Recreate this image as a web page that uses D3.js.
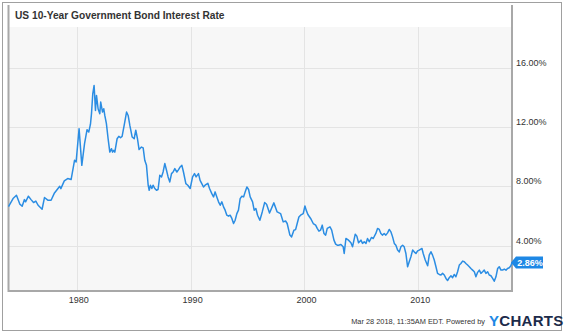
<!DOCTYPE html>
<html><head><meta charset="utf-8">
<script src="https://cdn.jsdelivr.net/npm/d3@7"></script>
<style>
html,body{margin:0;padding:0;background:#fff;}
text{font-family:"Liberation Sans",Arial,sans-serif;}
</style></head>
<body><svg id="c" width="564" height="333"></svg>
<script>
const title = "US 10-Year Government Bond Interest Rate";
const footerText = "Mar 28 2018, 11:35AM EDT.  Powered by";
const yTicks = [4, 8, 12, 16];
const xTicks = [1980, 1990, 2000, 2010];
const lastLabel = "2.86%";
const years = [1974.0,1974.4,1974.7,1975.0,1975.2,1975.4,1975.5,1975.75,1975.98,1976.2,1976.4,1976.6,1976.95,1977.16,1977.45,1977.74,1978.04,1978.5,1978.6,1978.9,1979.2,1979.5,1979.8,1979.94,1980.2,1980.44,1980.68,1980.9,1981.05,1981.2,1981.29,1981.4,1981.52,1981.64,1981.73,1981.87,1982.02,1982.1,1982.26,1982.37,1982.46,1982.6,1982.75,1982.9,1983.05,1983.14,1983.25,1983.34,1983.54,1983.69,1983.84,1983.98,1984.16,1984.37,1984.51,1984.66,1984.86,1985.04,1985.18,1985.33,1985.47,1985.68,1985.83,1985.97,1986.12,1986.27,1986.36,1986.47,1986.59,1986.7,1986.85,1987.0,1987.14,1987.29,1987.44,1987.58,1987.73,1987.88,1988.02,1988.17,1988.32,1988.46,1988.61,1988.79,1988.94,1989.08,1989.23,1989.37,1989.58,1989.75,1989.96,1990.17,1990.34,1990.48,1990.69,1990.83,1990.98,1991.13,1991.27,1991.51,1991.66,1991.86,1992.01,1992.15,1992.3,1992.45,1992.6,1992.74,1992.89,1993.03,1993.18,1993.33,1993.47,1993.62,1993.77,1993.91,1994.06,1994.2,1994.35,1994.5,1994.65,1994.79,1994.94,1995.09,1995.23,1995.44,1995.58,1995.73,1995.88,1996.08,1996.29,1996.5,1996.67,1996.93,1997.31,1997.6,1997.9,1998.13,1998.34,1998.48,1998.72,1998.87,1999.07,1999.22,1999.36,1999.51,1999.66,1999.89,2000.04,2000.15,2000.3,2000.54,2000.77,2000.98,2001.12,2001.27,2001.41,2001.56,2001.71,2001.86,2002.0,2002.24,2002.39,2002.59,2002.74,2002.88,2002.99,2003.2,2003.4,2003.49,2003.64,2003.87,2004.08,2004.22,2004.46,2004.6,2004.75,2004.96,2005.1,2005.25,2005.4,2005.54,2005.69,2005.89,2006.04,2006.27,2006.42,2006.57,2006.71,2006.86,2007.0,2007.15,2007.3,2007.45,2007.59,2007.74,2007.89,2008.03,2008.18,2008.33,2008.47,2008.62,2008.76,2008.91,2009.06,2009.2,2009.35,2009.5,2009.64,2009.79,2009.94,2010.08,2010.32,2010.43,2010.61,2010.82,2010.96,2011.11,2011.25,2011.4,2011.55,2011.69,2011.84,2011.99,2012.13,2012.28,2012.43,2012.57,2012.72,2012.87,2013.01,2013.16,2013.3,2013.45,2013.6,2013.74,2013.89,2014.04,2014.18,2014.33,2014.48,2014.62,2014.77,2014.92,2015.06,2015.21,2015.36,2015.5,2015.65,2015.79,2015.94,2016.09,2016.23,2016.38,2016.53,2016.67,2016.82,2016.97,2017.11,2017.26,2017.4,2017.55,2017.7,2017.84,2017.99,2018.13,2018.23];
const rates = [6.62,7.17,7.39,6.79,6.66,7.10,6.95,7.33,7.10,6.90,7.00,6.72,6.45,7.24,7.06,7.06,7.55,8.00,7.84,8.36,8.52,8.45,9.75,9.63,11.88,9.41,10.87,11.81,11.65,12.18,12.89,14.2,14.79,13.10,14.12,13.22,12.89,13.67,13.00,13.22,12.77,12.22,11.20,10.30,10.53,10.30,10.42,10.30,11.20,11.36,11.27,11.36,12.10,13.00,12.77,12.10,11.32,11.20,11.78,11.20,10.47,10.64,10.58,9.75,9.41,8.07,7.73,8.07,7.85,8.07,7.85,7.73,7.78,8.74,8.63,8.96,9.53,9.08,8.63,8.29,8.85,8.96,9.19,8.96,9.12,9.30,9.41,8.96,8.18,8.07,7.85,8.63,8.85,8.63,8.85,8.40,8.18,7.95,8.07,8.20,7.85,7.50,7.28,7.62,7.28,6.95,6.72,6.95,6.61,6.39,6.05,5.98,6.05,5.83,5.49,5.71,6.16,6.39,7.17,7.33,7.28,7.62,7.95,7.78,7.28,6.95,6.39,6.50,6.05,5.71,6.27,6.90,6.79,6.20,6.88,6.27,6.16,5.60,5.66,5.49,4.71,4.59,5.04,5.08,5.49,5.93,6.05,6.16,6.67,6.39,6.10,5.83,5.49,5.38,5.16,4.97,5.04,5.38,4.82,4.71,5.16,5.27,5.04,4.37,4.10,4.03,4.03,4.08,3.92,3.47,4.48,4.37,4.19,3.92,4.77,4.64,4.19,4.37,4.15,4.26,4.15,4.48,4.26,4.55,4.48,4.82,5.16,5.09,4.82,4.71,4.82,4.71,4.86,5.09,4.93,4.59,4.15,4.03,3.70,3.58,3.92,4.03,3.92,3.47,2.57,2.91,3.25,3.70,3.58,3.47,3.65,3.70,3.81,3.47,3.03,2.64,3.36,3.59,3.36,3.03,2.58,2.13,2.06,2.02,2.13,2.02,1.79,1.65,1.84,1.97,1.84,2.06,1.90,2.24,2.69,2.80,2.96,2.91,2.80,2.69,2.58,2.46,2.35,2.24,1.90,2.20,2.35,2.13,2.24,2.35,2.13,2.24,2.02,1.97,1.79,1.60,1.90,2.46,2.58,2.35,2.35,2.42,2.35,2.46,2.51,2.64,2.86];

const svg = d3.select("#c");
const L = 8.5, R = 512, T = 27, B = 291;
const x = d3.scaleLinear().domain([1974.0, 2018.23]).range([L, R]);
const y = d3.scaleLinear().domain([0, 16]).range([305, 67.5]);

// background & frame
svg.append("rect").attr("x",2.5).attr("y",2.5).attr("width",559).attr("height",328)
  .attr("fill","#fff").attr("stroke","#a0a0a0").attr("stroke-width",1);
svg.append("rect").attr("x",L).attr("y",T).attr("width",R-L).attr("height",B-T).attr("fill","#f7f7f7");

// title
svg.append("text").attr("x",15).attr("y",19).attr("font-size",10.2).attr("font-weight","bold")
  .attr("fill","#333").text(title);

// grid
const g = svg.append("g");
g.selectAll(".hg").data(yTicks).enter().append("line")
  .attr("x1",L).attr("x2",R).attr("y1",d=>Math.round(y(d))+0.5).attr("y2",d=>Math.round(y(d))+0.5)
  .attr("stroke","#e4e4e4").attr("stroke-width",1);
g.selectAll(".vg").data(xTicks).enter().append("line")
  .attr("y1",T).attr("y2",B).attr("x1",d=>Math.round(x(d))+0.5).attr("x2",d=>Math.round(x(d))+0.5)
  .attr("stroke","#e4e4e4").attr("stroke-width",1);

// axes lines
svg.append("line").attr("x1",L).attr("x2",L).attr("y1",T-22).attr("y2",B+1).attr("stroke","#a8a8a8").attr("stroke-width",2);
svg.append("line").attr("x1",R).attr("x2",R).attr("y1",T-22).attr("y2",B+1).attr("stroke","#a8a8a8").attr("stroke-width",2);
svg.append("line").attr("x1",L).attr("x2",R).attr("y1",B).attr("y2",B).attr("stroke","#a8a8a8").attr("stroke-width",2);

// y labels
svg.selectAll(".yl").data(yTicks).enter().append("text")
  .attr("x",516).attr("y",d=>y(d)-2).attr("font-size",9).attr("fill","#333")
  .text(d=>d3.format(".2f")(d)+"%");
// x labels
svg.selectAll(".xl").data(xTicks).enter().append("text")
  .attr("x",d=>x(d)+2).attr("y",303).attr("font-size",9).attr("fill","#333").attr("text-anchor","middle")
  .text(d=>d);

// line
const data = years.map((t,i)=>({t, v:rates[i]}));
svg.append("path").datum(data)
  .attr("d", d3.line().x(d=>x(d.t)).y(d=>y(d.v)))
  .attr("fill","none").attr("stroke","#2b8de3").attr("stroke-width",1.5).attr("stroke-linejoin","round");

// last value label
const lv = rates[rates.length-1];
const ly = y(lv);
svg.append("path")
  .attr("d", `M${R-1},${ly} L${R+4},${ly-6} L${R+31},${ly-6} L${R+31},${ly+6} L${R+4},${ly+6} Z`)
  .attr("fill","#1e88e5");
svg.append("text").attr("x",R+18).attr("y",ly+3.3).attr("text-anchor","middle")
  .attr("font-size",9).attr("font-weight","bold").attr("fill","#fff").text(lastLabel);

// footer
svg.append("text").attr("x",485).attr("y",324).attr("text-anchor","end").attr("font-size",7.4)
  .attr("fill","#333").text(footerText);
const logo = svg.append("text").attr("x",489).attr("y",326).attr("font-size",15).attr("font-weight","bold")
  .attr("letter-spacing",0.3);
logo.append("tspan").attr("fill","#1e88e5").text("Y");
logo.append("tspan").attr("fill","#1c2b4a").text("CHARTS");
</script></body></html>
